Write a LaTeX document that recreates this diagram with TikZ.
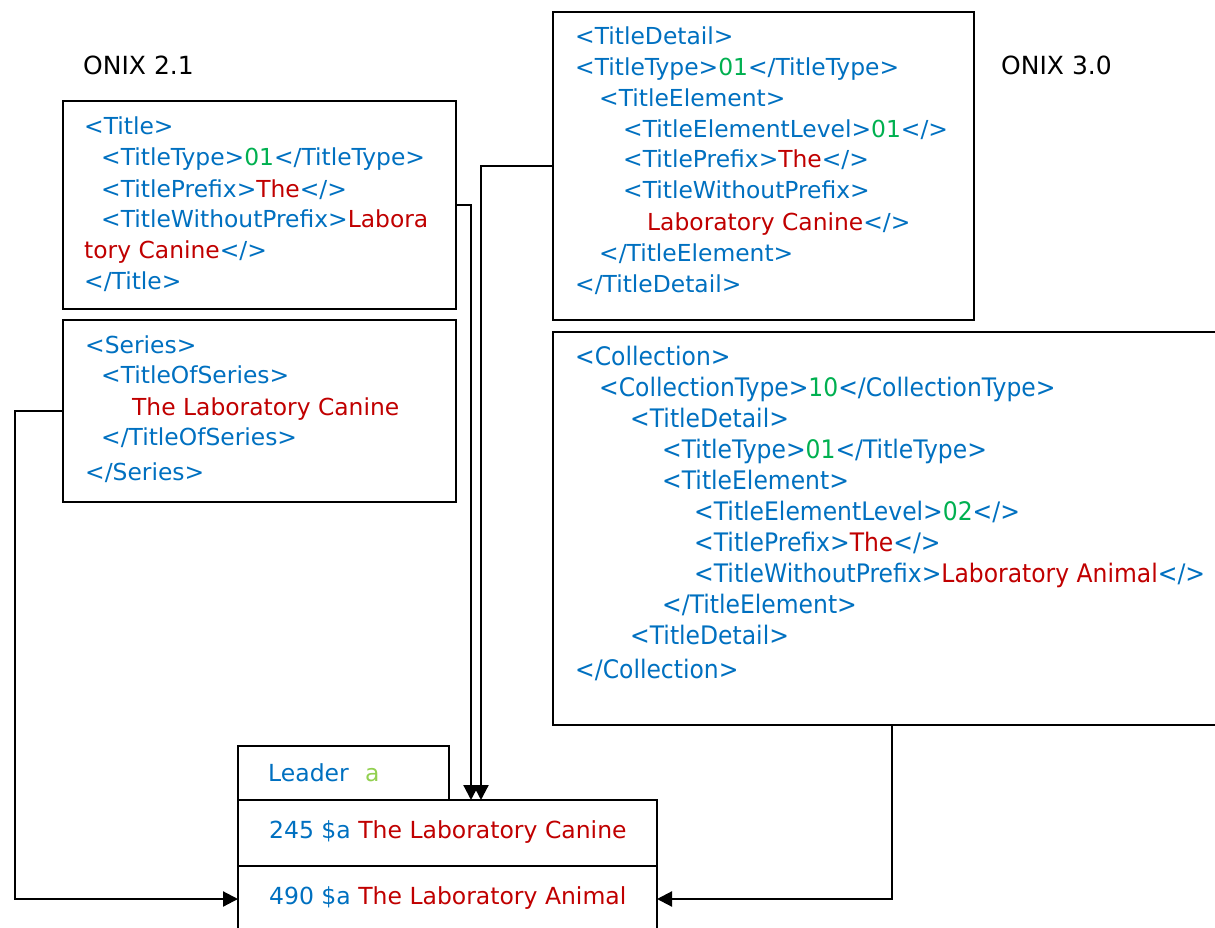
\documentclass[tikz,border=0pt]{standalone}
\usepackage{fontspec}
\setmainfont{DejaVu Sans}
\newfontfamily\narrowfont{DejaVu Sans}[FakeStretch=0.92]
\usetikzlibrary{arrows.meta}
\definecolor{tagblue}{HTML}{0070C0}
\definecolor{valred}{HTML}{C00000}
\definecolor{codegreen}{HTML}{00B050}
\definecolor{leadgreen}{HTML}{92D050}
\newcommand\vr[1]{\textcolor{valred}{#1}}
\newcommand\cd[1]{\textcolor{codegreen}{#1}}

\begin{document}
\begin{tikzpicture}[x=1pt,y=-1pt,
  box/.style={draw=black, line width=2.2pt, anchor=north west, inner sep=0pt, outer sep=0pt},
  xml/.style={anchor=base west, inner sep=0pt, text=tagblue, font=\fontsize{23.4}{28}\selectfont},
  cxml/.style={anchor=base west, inner sep=0pt, text=tagblue, font=\narrowfont\fontsize{25.5}{30}\selectfont},
  marc/.style={anchor=base west, inner sep=0pt, text=tagblue, font=\fontsize{23.5}{28}\selectfont},
  heading/.style={anchor=base west, inner sep=0pt, text=black, font=\fontsize{25}{30}\selectfont},
  conn/.style={line width=2.2pt, -{Triangle[length=15pt,width=15pt]}}]

\useasboundingbox (0,0) rectangle (1215,928);
\clip (0,0) rectangle (1215,928);

% headings
\node[heading] (h21) at (83,75) {ONIX 2.1};
\node[heading] (h30) at (1001,75) {ONIX 3.0};

% ONIX 2.1 boxes
\node[box, minimum width=393pt, minimum height=208pt] (title) at (63,101) {};
\node[box, minimum width=393pt, minimum height=182pt] (series) at (63,320) {};

% ONIX 3.0 boxes
\node[box, minimum width=421pt, minimum height=308pt] (tdetail) at (553,12) {};
\node[box, minimum width=678pt, minimum height=393pt] (coll) at (553,332) {};

% MARC record
\node[box, minimum width=211pt, minimum height=54pt] (leader) at (238,746) {};
\node[box, minimum width=419pt, minimum height=66pt] (m245) at (238,800) {};
\node[box, minimum width=419pt, minimum height=66pt] (m490) at (238,866) {};

% <Title>
\node[xml] (t1) at (84,135) {<Title>};
\node[xml] (t2) at (101,166) {<TitleType>\cd{01}</TitleType>};
\node[xml] (t3) at (101,197) {<TitlePrefix>\vr{The}</>};
\node[xml] (t4) at (101,227) {<TitleWithoutPrefix>\vr{Labora}};
\node[xml] (t5) at (84,258) {\vr{tory Canine}</>};
\node[xml] (t6) at (84,289) {</Title>};

% <Series>
\node[xml] (s1) at (85,353) {<Series>};
\node[xml] (s2) at (101,383) {<TitleOfSeries>};
\node[xml] (s3) at (132,415) {\vr{The Laboratory Canine}};
\node[xml] (s4) at (101,445) {</TitleOfSeries>};
\node[xml] (s5) at (85,480) {</Series>};

% <TitleDetail>
\node[xml] (d1) at (575,45) {<TitleDetail>};
\node[xml] (d2) at (575,76) {<TitleType>\cd{01}</TitleType>};
\node[xml] (d3) at (599,107) {<TitleElement>};
\node[xml] (d4) at (623,138) {<TitleElementLevel>\cd{01}</>};
\node[xml] (d5) at (623,168) {<TitlePrefix>\vr{The}</>};
\node[xml] (d6) at (623,199) {<TitleWithoutPrefix>};
\node[xml] (d7) at (647,230) {\vr{Laboratory Canine}</>};
\node[xml] (d8) at (599,261) {</TitleElement>};
\node[xml] (d9) at (575,292) {</TitleDetail>};

% <Collection>
\node[cxml] (c1) at (575,365) {<Collection>};
\node[cxml] (c2) at (599,396) {<CollectionType>\cd{10}</CollectionType>};
\node[cxml] (c3) at (630,427) {<TitleDetail>};
\node[cxml] (c4) at (662,458) {<TitleType>\cd{01}</TitleType>};
\node[cxml] (c5) at (662,489) {<TitleElement>};
\node[cxml] (c6) at (694,520) {<TitleElementLevel>\cd{02}</>};
\node[cxml] (c7) at (694,551) {<TitlePrefix>\vr{The}</>};
\node[cxml] (c8) at (694,582) {<TitleWithoutPrefix>\vr{Laboratory Animal}</>};
\node[cxml] (c9) at (662,613) {</TitleElement>};
\node[cxml] (c10) at (630,644) {<TitleDetail>};
\node[cxml] (c11) at (575,678) {</Collection>};

% MARC fields
\node[marc] (lt) at (268,781) {Leader\hspace{0.7em}\textcolor{leadgreen}{a}};
\node[marc] (f245) at (269,838) {245 \$a \vr{The Laboratory Canine}};
\node[marc] (f490) at (269,904) {490 \$a \vr{The Laboratory Animal}};

% mappings
\draw[conn] (title.east) -| (471,0 |- m245.north);
\draw[conn] (tdetail.west) -| (481,0 |- m245.north);
\draw[conn] (series.west) -| (15,0 |- m490.west) -- (m490.west);
\draw[conn] (coll.south) |- (m490.east);
\end{tikzpicture}
\end{document}
